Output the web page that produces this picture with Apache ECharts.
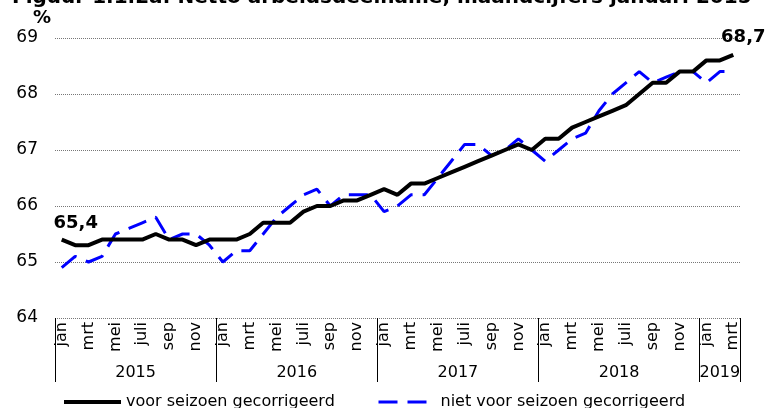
<!DOCTYPE html>
<html>
<head>
<meta charset="utf-8">
<script src="https://cdn.jsdelivr.net/npm/echarts@6/dist/echarts.min.js"></script>
<style>
html,body{margin:0;padding:0;background:#fff;}
#chart{width:768px;height:408px;}
</style>
</head>
<body>
<div id="chart"></div>
<script>
const years = [2015, 2016, 2017, 2018, 2019];
const monthsPerYear = [12, 12, 12, 12, 3];
const monthNames = ['jan','feb','mrt','apr','mei','jun','juli','aug','sep','okt','nov','dec'];
const yTicks = [64, 65, 66, 67, 68, 69];
const seriesNames = ['voor seizoen gecorrigeerd', 'niet voor seizoen gecorrigeerd'];

const seasonAdjusted = [
  65.4, 65.3, 65.3, 65.4, 65.4, 65.4, 65.4, 65.5, 65.4, 65.4, 65.3, 65.4,
  65.4, 65.4, 65.5, 65.7, 65.7, 65.7, 65.9, 66.0, 66.0, 66.1, 66.1, 66.2,
  66.3, 66.2, 66.4, 66.4, 66.5, 66.6, 66.7, 66.8, 66.9, 67.0, 67.1, 67.0,
  67.2, 67.2, 67.4, 67.5, 67.6, 67.7, 67.8, 68.0, 68.2, 68.2, 68.4, 68.4,
  68.6, 68.6, 68.7
];
const notSeasonAdjusted = [
  64.9, 65.1, 65.0, 65.1, 65.5, 65.6, 65.7, 65.8, 65.4, 65.5, 65.5, 65.3,
  65.0, 65.2, 65.2, 65.5, 65.8, 66.0, 66.2, 66.3, 66.0, 66.2, 66.2, 66.2,
  65.9, 66.0, 66.2, 66.2, 66.5, 66.8, 67.1, 67.1, 66.9, 67.0, 67.2, 67.0,
  66.8, 67.0, 67.2, 67.3, 67.7, 68.0, 68.2, 68.4, 68.2, 68.3, 68.4, 68.4,
  68.2, 68.4, 68.4
];

// derived category structure
const categories = [];
const yearStarts = [];
const yearMids = [];
years.forEach((y, k) => {
  yearStarts.push(categories.length);
  yearMids.push(categories.length + monthsPerYear[k] / 2);
  for (let m = 0; m < monthsPerYear[k]; m++) categories.push(monthNames[m]);
});
const nCat = categories.length;
const yearTickValues = yearStarts.concat([nCat]);

const FONT = 'DejaVu Sans';
const fmt = v => String(v.toFixed(1)).replace('.', ',');

function withEndLabels(arr, firstOffset, lastOffset) {
  return arr.map((v, i) => {
    if (i === 0) return {value: v, label: {show: true, position: 'top', offset: firstOffset}};
    if (i === arr.length - 1) return {value: v, label: {show: true, position: 'top', offset: lastOffset}};
    return v;
  });
}

const chart = echarts.init(document.getElementById('chart'), null, {renderer: 'canvas'});
chart.setOption({
  animation: false,
  backgroundColor: '#fff',
  textStyle: {fontFamily: FONT, color: '#000'},
  title: [
    {
      text: 'Figuur 1.1.2a: Netto arbeidsdeelname, maandcijfers januari 2015 - maart 2019',
      left: 12, top: -12, padding: 0,
      textStyle: {fontFamily: FONT, fontSize: 20, fontWeight: 'bold', color: '#000'}
    },
    {
      text: '%', left: 33, top: 9, padding: 0,
      textStyle: {fontFamily: FONT, fontSize: 18, fontWeight: 'bold', color: '#000'}
    }
  ],
  grid: {left: 55, right: 28, top: 38, bottom: 90, containLabel: false},
  xAxis: [
    {
      type: 'category',
      data: categories,
      position: 'bottom',
      boundaryGap: true,
      axisLine: {show: false},
      axisTick: {show: false},
      axisLabel: {
        interval: 1, rotate: 90, margin: 4,
        fontFamily: FONT, fontSize: 16, color: '#000'
      },
      splitLine: {show: false}
    },
    {
      type: 'value',
      min: 0, max: nCat,
      position: 'bottom',
      axisLine: {show: false},
      splitLine: {show: false},
      axisTick: {
        show: true, customValues: yearTickValues, length: 64, inside: false,
        lineStyle: {color: '#000', width: 1}
      },
      axisLabel: {
        show: true, customValues: yearMids, margin: 47,
        fontFamily: FONT, fontSize: 16, color: '#000',
        formatter: v => {
          const k = yearMids.findIndex(m => Math.abs(m - v) < 1e-6);
          return k >= 0 ? String(years[k]) : '';
        }
      }
    }
  ],
  yAxis: {
    type: 'value',
    min: yTicks[0], max: yTicks[yTicks.length - 1], interval: 1,
    axisLine: {show: false},
    axisTick: {show: false},
    axisLabel: {margin: 17, fontFamily: FONT, fontSize: 17, color: '#000'},
    splitLine: {show: true, lineStyle: {color: '#777', width: 1, type: [1, 1]}}
  },
  legend: [
    {
      data: [seriesNames[0]],
      left: 62, top: 394, padding: 0,
      itemWidth: 57, itemHeight: 14,
      itemStyle: {opacity: 0},
      lineStyle: {width: 4},
      textStyle: {fontFamily: FONT, fontSize: 16, color: '#000'}
    },
    {
      data: [seriesNames[1]],
      left: 377, top: 394, padding: 0,
      itemWidth: 57, itemHeight: 14,
      itemStyle: {opacity: 0},
      lineStyle: {width: 3},
      textStyle: {fontFamily: FONT, fontSize: 16, color: '#000'}
    }
  ],
  series: [
    {
      name: seriesNames[1],
      type: 'line',
      xAxisIndex: 0,
      data: notSeasonAdjusted,
      symbol: 'none',
      lineStyle: {color: '#0000FF', width: 3, type: [19, 10]},
      itemStyle: {color: '#0000FF'},
      z: 2
    },
    {
      name: seriesNames[0],
      type: 'line',
      xAxisIndex: 0,
      data: withEndLabels(seasonAdjusted, [14, -2], [10, -3]),
      symbol: 'circle',
      symbolSize: 0,
      showSymbol: true,
      lineStyle: {color: '#000', width: 4},
      itemStyle: {color: '#000'},
      label: {
        show: false,
        fontFamily: FONT, fontSize: 18, fontWeight: 'bold', color: '#000',
        formatter: p => fmt(p.value)
      },
      z: 3
    }
  ]
});
</script>
</body>
</html>
